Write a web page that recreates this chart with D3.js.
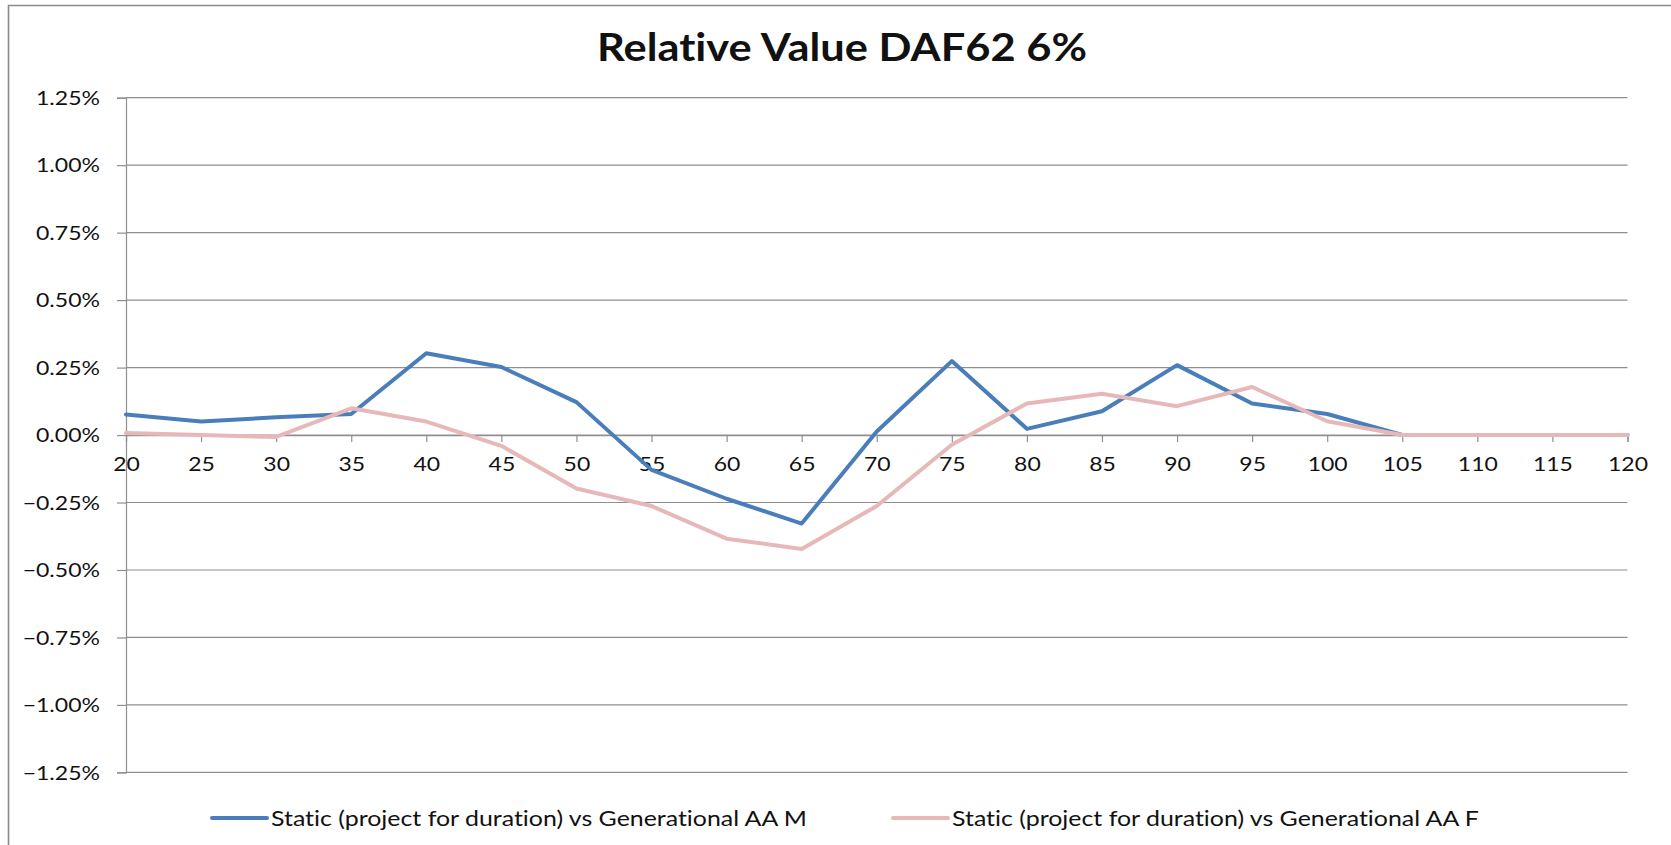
<!DOCTYPE html>
<html>
<head>
<meta charset="utf-8">
<script src="https://cdn.jsdelivr.net/npm/d3@7"></script>
<style>
  html, body { margin: 0; padding: 0; background: #fff; }
  svg { display: block; }
  text { font-family: Lato, "Open Sans", sans-serif; fill: #111; font-variant-ligatures: none; }
</style>
</head>
<body>
<svg id="chart" width="1671" height="845"></svg>
<script>
// Ages along the horizontal axis
const ages = [20, 25, 30, 35, 40, 45, 50, 55, 60, 65, 70, 75, 80, 85, 90, 95, 100, 105, 110, 115, 120];

// Relative value differences (in %)
const seriesM = [0.076, 0.050, 0.066, 0.078, 0.303, 0.252, 0.122, -0.129, -0.236, -0.328, 0.013, 0.274, 0.023, 0.088, 0.259, 0.117, 0.078, 0.0, 0.0, 0.0, 0.0];
const seriesF = [0.008, 0.0, -0.007, 0.099, 0.050, -0.040, -0.198, -0.263, -0.384, -0.422, -0.263, -0.036, 0.117, 0.153, 0.107, 0.178, 0.051, 0.0, 0.0, 0.0, 0.0];

const seriesNames = [
  "Static (project for duration) vs Generational AA M",
  "Static (project for duration) vs Generational AA F"
];
const yTicks = [1.25, 1.0, 0.75, 0.5, 0.25, 0, -0.25, -0.5, -0.75, -1.0, -1.25];
const title = "Relative Value DAF62 6%";

const svg = d3.select("#chart");
const plot = { left: 126, right: 1627.5, top: 97.7, bottom: 772.4 };

const x = d3.scaleLinear().domain([20, 120]).range([plot.left, plot.right]);
const y = d3.scaleLinear().domain([-1.25, 1.25]).range([plot.bottom, plot.top]);

const gridColor = "#8f8f8f";

// stretch a group of labels horizontally so a reference string spans a given width
function fitWidth(sel, refText, targetWidth, fontSize, weight) {
  const probe = svg.append("text")
    .attr("font-size", fontSize).attr("font-weight", weight || "normal")
    .text(refText);
  const natural = probe.node().getComputedTextLength();
  probe.remove();
  const k = targetWidth / natural;
  sel.each(function () {
    const n = this.getComputedTextLength();
    d3.select(this).attr("textLength", n * k).attr("lengthAdjust", "spacingAndGlyphs");
  });
}

// chart frame (top and left edges)
svg.append("path")
  .attr("d", "M8.5,845 L8.5,5.5 L1671,5.5")
  .attr("fill", "none").attr("stroke", "#8a8a8a").attr("stroke-width", 1.6);

// horizontal gridlines
svg.append("g")
  .selectAll("line").data(yTicks).join("line")
  .attr("x1", plot.left).attr("x2", plot.right)
  .attr("y1", d => y(d)).attr("y2", d => y(d))
  .attr("stroke", gridColor).attr("stroke-width", 1.2);

// vertical axis
const yAxis = d3.axisLeft(y).tickValues(yTicks).tickSize(9).tickPadding(0)
  .tickFormat(d => d3.format(".2f")(d) + "%");
const gy = svg.append("g").attr("transform", `translate(${plot.left},0)`).call(yAxis);
gy.select(".domain").attr("stroke", gridColor).attr("stroke-width", 1.2);
gy.selectAll(".tick line").attr("stroke", gridColor).attr("stroke-width", 1.2);
const yLabels = gy.selectAll(".tick text")
  .attr("x", 100 - plot.left).attr("dy", "0.36em")
  .attr("font-size", 18.5).attr("fill", "#111")
  .style("font-family", "Lato, 'Open Sans', sans-serif");
fitWidth(yLabels, "0.00%", 64, 18.5);

// horizontal axis through zero
const xAxis = d3.axisBottom(x).tickValues(ages).tickSize(7).tickPadding(0).tickFormat(d3.format("d"));
const gx = svg.append("g").attr("transform", `translate(0,${y(0)})`).call(xAxis);
gx.select(".domain").attr("stroke", gridColor).attr("stroke-width", 1.2);
gx.selectAll(".tick line").attr("stroke", gridColor).attr("stroke-width", 1.2);
const xLabels = gx.selectAll(".tick text")
  .attr("y", 36).attr("dy", 0)
  .attr("font-size", 18.5).attr("fill", "#111")
  .style("font-family", "Lato, 'Open Sans', sans-serif");
fitWidth(xLabels, "100", 40, 18.5);

// series lines
const line = d3.line().x((d, i) => x(ages[i])).y(d => y(d));
const colors = ["#4a7ebb", "#e6b9b8"];
[seriesM, seriesF].forEach((s, k) => {
  svg.append("path")
    .datum(s)
    .attr("d", line)
    .attr("fill", "none")
    .attr("stroke", colors[k])
    .attr("stroke-width", 4)
    .attr("stroke-linejoin", "round")
    .attr("stroke-linecap", "round");
});

// title
const t = svg.append("text")
  .attr("x", 842).attr("y", 61)
  .attr("text-anchor", "middle")
  .attr("font-size", 37.5).attr("font-weight", "bold")
  .attr("fill", "#000")
  .text(title);
fitWidth(t, title, 490, 37.5, "bold");

// legend
const legendPos = [{ x0: 212, x1: 267, tx: 271 }, { x0: 893, x1: 948, tx: 952 }];
const legendY = 818;
const lg = svg.append("g");
seriesNames.forEach((name, k) => {
  const p = legendPos[k];
  lg.append("line")
    .attr("x1", p.x0).attr("x2", p.x1).attr("y1", legendY).attr("y2", legendY)
    .attr("stroke", colors[k]).attr("stroke-width", 4).attr("stroke-linecap", "round");
  const lt = lg.append("text")
    .attr("x", p.tx).attr("y", legendY + 7.5)
    .attr("font-size", 20.5).attr("fill", "#111")
    .text(name);
  fitWidth(lt, seriesNames[0], 536, 20.5);
});
</script>
</body>
</html>
